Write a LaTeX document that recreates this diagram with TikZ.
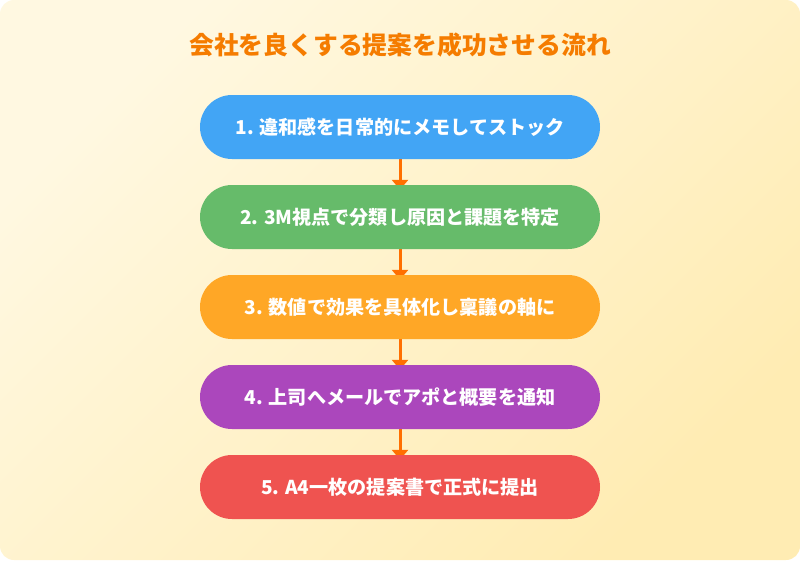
\documentclass[tikz,border=0pt]{standalone}
\usepackage{fontspec}
\setmainfont{Noto Sans CJK JP}
\usetikzlibrary{arrows.meta,backgrounds}
\definecolor{bgA}{HTML}{FFF8E1}
\definecolor{bgB}{HTML}{FFECB3}
\definecolor{titleC}{HTML}{F57C00}
\definecolor{arrC}{HTML}{FF6F00}
\definecolor{cBlue}{HTML}{42A5F5}
\definecolor{cGreen}{HTML}{66BB6A}
\definecolor{cOrange}{HTML}{FFA726}
\definecolor{cPurple}{HTML}{AB47BC}
\definecolor{cRed}{HTML}{EF5350}
\tikzset{
  stepbox/.style={rounded corners=32pt, minimum width=400pt, minimum height=64pt,
    inner sep=0pt, text=white, font=\bfseries\fontsize{19.1pt}{23pt}\selectfont},
  flowarrow/.style={draw=arrC, line width=3pt, -{Triangle[length=10pt,width=16pt]}}
}
\begin{document}
\begin{tikzpicture}[x=1pt,y=-1pt]
\useasboundingbox (0,0) rectangle (800,560);
\begin{scope}[on background layer]
\shade[rounded corners=14pt, top color=bgA, bottom color=bgB, shading angle=45] (0,0) rectangle (800,560);
\end{scope}
\node[font=\bfseries\fontsize{24.8pt}{29pt}\selectfont, text=titleC] (title) at (400,45) {会社を良くする提案を成功させる流れ};
\node[stepbox, fill=cBlue] (s1) at (400,127) {1. 違和感を日常的にメモしてストック};
\node[stepbox, fill=cGreen] (s2) at (400,217) {2. 3M視点で分類し原因と課題を特定};
\node[stepbox, fill=cOrange] (s3) at (400,307) {3. 数値で効果を具体化し稟議の軸に};
\node[stepbox, fill=cPurple] (s4) at (400,397) {4. 上司へメールでアポと概要を通知};
\node[stepbox, fill=cRed] (s5) at (400,487) {5. A4一枚の提案書で正式に提出};
\begin{scope}[on background layer]
\draw[flowarrow] (s1.south) -- ([yshift=-5pt]s2.north);
\draw[flowarrow] (s2.south) -- ([yshift=-5pt]s3.north);
\draw[flowarrow] (s3.south) -- ([yshift=-5pt]s4.north);
\draw[flowarrow] (s4.south) -- ([yshift=-5pt]s5.north);
\end{scope}
\end{tikzpicture}
\end{document}
